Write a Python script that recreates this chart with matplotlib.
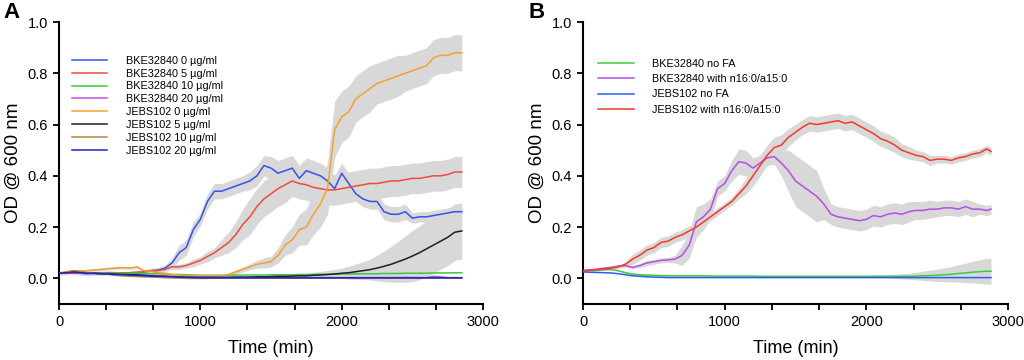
import numpy as np
import matplotlib
matplotlib.use("Agg")
import matplotlib.pyplot as plt
from matplotlib.ticker import MultipleLocator

plt.rcParams['font.family'] = ['Liberation Sans', 'DejaVu Sans']

# ---------------- Panel A data (time step 50 min) ----------------
t_a = np.arange(0, 2851, 50)

labels_a = ['BKE32840 0 µg/ml', 'BKE32840 5 µg/ml', 'BKE32840 10 µg/ml', 'BKE32840 20 µg/ml',
            'JEBS102 0 µg/ml', 'JEBS102 5 µg/ml', 'JEBS102 10 µg/ml', 'JEBS102 20 µg/ml']
colors_a = ['#3452ec', '#f04a3a', '#3cc83c', '#c24ee6', '#f5a02e', '#1e1e1e', '#b58541', '#1a22c8']

bke0 = [0.02, 0.022, 0.025, 0.02, 0.018, 0.02, 0.02, 0.022, 0.02, 0.018, 0.02, 0.022, 0.025, 0.03, 0.032, 0.04,
        0.06, 0.10, 0.12, 0.19, 0.23, 0.30, 0.34, 0.34, 0.35, 0.36, 0.37, 0.38, 0.40, 0.44, 0.43,
        0.41, 0.42, 0.43, 0.39, 0.42, 0.41, 0.40, 0.38, 0.35, 0.41, 0.37, 0.33, 0.31, 0.30, 0.30,
        0.26, 0.25, 0.25, 0.26, 0.235, 0.24, 0.24, 0.245, 0.25, 0.255, 0.26, 0.26]
bke0_err = [0.008, 0.008, 0.01, 0.008, 0.008, 0.008, 0.008, 0.008, 0.008, 0.008, 0.008, 0.008, 0.008, 0.01, 0.01, 0.012,
            0.02, 0.03, 0.03, 0.03, 0.025, 0.03, 0.03, 0.03, 0.03, 0.03, 0.03, 0.035, 0.04, 0.04, 0.045,
            0.05, 0.05, 0.05, 0.05, 0.05, 0.05, 0.05, 0.05, 0.05, 0.04, 0.04, 0.03, 0.03, 0.03, 0.03,
            0.03, 0.03, 0.03, 0.03, 0.02, 0.02, 0.02, 0.02, 0.02, 0.02, 0.02, 0.02]

bke5 = [0.02, 0.02, 0.02, 0.02, 0.02, 0.02, 0.02, 0.02, 0.02, 0.022, 0.022, 0.024, 0.025, 0.028, 0.03, 0.035,
        0.045, 0.045, 0.05, 0.06, 0.07, 0.085, 0.10, 0.12, 0.14, 0.17, 0.21, 0.24, 0.28, 0.31, 0.33,
        0.35, 0.365, 0.38, 0.37, 0.365, 0.355, 0.35, 0.345, 0.345, 0.35, 0.355, 0.36, 0.365, 0.37, 0.37,
        0.375, 0.38, 0.38, 0.385, 0.39, 0.39, 0.395, 0.40, 0.40, 0.405, 0.415, 0.415]
bke5_err = [0.005, 0.005, 0.005, 0.005, 0.005, 0.005, 0.005, 0.005, 0.005, 0.005, 0.005, 0.005, 0.006, 0.006, 0.008, 0.008,
            0.01, 0.01, 0.01, 0.015, 0.015, 0.02, 0.02, 0.03, 0.04, 0.05, 0.06, 0.07, 0.07, 0.07, 0.07,
            0.07, 0.07, 0.06, 0.06, 0.06, 0.06, 0.06, 0.06, 0.06, 0.06, 0.06, 0.06, 0.06, 0.06, 0.06,
            0.06, 0.06, 0.06, 0.06, 0.06, 0.06, 0.06, 0.06, 0.06, 0.06, 0.06, 0.06]

bke10 = [0.02, 0.022, 0.025, 0.022, 0.02, 0.02, 0.02, 0.02, 0.02, 0.02, 0.02, 0.02, 0.02, 0.018, 0.018, 0.017,
         0.015, 0.015, 0.014, 0.013, 0.012, 0.012, 0.012, 0.012, 0.012, 0.013, 0.013, 0.013, 0.013, 0.013, 0.014,
         0.014, 0.014, 0.014, 0.015, 0.015, 0.015, 0.016, 0.016, 0.016, 0.017, 0.017, 0.017, 0.018, 0.018, 0.018,
         0.019, 0.019, 0.019, 0.02, 0.02, 0.02, 0.02, 0.021, 0.021, 0.021, 0.022, 0.022]

bke20 = [0.02, 0.02, 0.025, 0.022, 0.02, 0.018, 0.017, 0.016, 0.015, 0.015, 0.014, 0.013, 0.012, 0.012, 0.01, 0.01,
         0.008, 0.007, 0.006, 0.005, 0.004, 0.004, 0.004, 0.003, 0.003, 0.003, 0.003, 0.003, 0.003, 0.003, 0.003,
         0.003, 0.003, 0.003, 0.003, 0.003, 0.003, 0.003, 0.003, 0.003, 0.003, 0.003, 0.003, 0.003, 0.003, 0.003,
         0.003, 0.003, 0.003, 0.004, 0.003, 0.003, 0.003, 0.008, 0.006, 0.003, 0.003, 0.003]

jebs0 = [0.02, 0.022, 0.025, 0.028, 0.03, 0.033, 0.035, 0.038, 0.04, 0.042, 0.04, 0.045, 0.03, 0.028, 0.022, 0.02,
         0.015, 0.012, 0.01, 0.01, 0.01, 0.01, 0.01, 0.01, 0.015, 0.025, 0.035, 0.045, 0.055, 0.06, 0.065,
         0.09, 0.13, 0.15, 0.19, 0.20, 0.25, 0.29, 0.35, 0.58, 0.63, 0.65, 0.70, 0.72, 0.74, 0.76,
         0.77, 0.78, 0.79, 0.80, 0.81, 0.82, 0.83, 0.86, 0.87, 0.87, 0.88, 0.88]
jebs0_err = [0.005, 0.005, 0.005, 0.005, 0.005, 0.005, 0.005, 0.005, 0.005, 0.005, 0.005, 0.005, 0.005, 0.005, 0.005, 0.005,
             0.005, 0.005, 0.005, 0.005, 0.005, 0.005, 0.005, 0.005, 0.006, 0.008, 0.01, 0.012, 0.015, 0.02, 0.02,
             0.03, 0.04, 0.05, 0.06, 0.07, 0.08, 0.09, 0.10, 0.11, 0.10, 0.10, 0.09, 0.09, 0.09, 0.08,
             0.08, 0.08, 0.08, 0.07, 0.07, 0.07, 0.07, 0.07, 0.07, 0.07, 0.07, 0.07]

jebs5 = [0.02, 0.022, 0.028, 0.025, 0.02, 0.02, 0.018, 0.017, 0.016, 0.015, 0.015, 0.014, 0.012, 0.01, 0.008, 0.007,
         0.006, 0.005, 0.004, 0.004, 0.004, 0.004, 0.004, 0.004, 0.004, 0.005, 0.005, 0.005, 0.006, 0.006, 0.007,
         0.008, 0.008, 0.009, 0.01, 0.01, 0.012, 0.013, 0.015, 0.017, 0.02, 0.022, 0.026, 0.03, 0.034, 0.04,
         0.047, 0.055, 0.065, 0.075, 0.087, 0.10, 0.115, 0.13, 0.145, 0.16, 0.18, 0.185]
jebs5_err = [0.005, 0.005, 0.005, 0.005, 0.005, 0.005, 0.005, 0.005, 0.005, 0.005, 0.005, 0.005, 0.005, 0.005, 0.005, 0.005,
             0.005, 0.005, 0.005, 0.005, 0.005, 0.005, 0.005, 0.005, 0.005, 0.005, 0.005, 0.005, 0.006, 0.006, 0.007,
             0.007, 0.008, 0.009, 0.01, 0.01, 0.012, 0.014, 0.016, 0.018, 0.02, 0.025, 0.03, 0.035, 0.04, 0.05,
             0.06, 0.07, 0.08, 0.09, 0.10, 0.105, 0.11, 0.11, 0.11, 0.11, 0.11, 0.11]

jebs10 = [0.02, 0.025, 0.03, 0.028, 0.022, 0.02, 0.018, 0.016, 0.012, 0.01, 0.008, 0.007, 0.006, 0.005, 0.004, 0.003,
          0.002, 0.001, 0.0, 0.0, 0.0, 0.0, 0.001, 0.001, 0.001, 0.001, 0.001, 0.001, 0.001, 0.001, 0.001,
          0.001, 0.001, 0.001, 0.001, 0.001, 0.001, 0.001, 0.001, 0.001, 0.001, 0.001, 0.001, 0.001, 0.001, 0.001,
          0.001, 0.001, 0.001, 0.001, 0.001, 0.001, 0.001, 0.001, 0.001, 0.001, 0.001, 0.001]

jebs20 = [0.02, 0.022, 0.024, 0.022, 0.02, 0.02, 0.018, 0.017, 0.015, 0.014, 0.013, 0.012, 0.01, 0.009, 0.008, 0.007,
          0.006, 0.005, 0.004, 0.003, 0.002, 0.002, 0.002, 0.002, 0.002, 0.002, 0.002, 0.002, 0.002, 0.002, 0.002,
          0.002, 0.002, 0.002, 0.002, 0.002, 0.002, 0.002, 0.002, 0.002, 0.002, 0.002, 0.002, 0.002, 0.002, 0.002,
          0.002, 0.002, 0.002, 0.002, 0.002, 0.002, 0.002, 0.002, 0.002, 0.002, 0.002, 0.002]

series_a = [bke0, bke5, bke10, bke20, jebs0, jebs5, jebs10, jebs20]
errors_a = [bke0_err, bke5_err, None, None, jebs0_err, jebs5_err, None, None]

# ---------------- Panel B data ----------------
t_b = np.append(np.arange(0, 2851, 50), 2880)

labels_b = ['BKE32840 no FA', 'BKE32840 with n16:0/a15:0', 'JEBS102 no FA', 'JEBS102 with n16:0/a15:0']
colors_b = ['#3ccc3c', '#b54ee6', '#2f5cf0', '#f43a26']

bke_nofa = [0.03, 0.031, 0.032, 0.034, 0.035, 0.03, 0.022, 0.017, 0.014, 0.013, 0.012, 0.011,
            0.01, 0.01, 0.01, 0.01, 0.01, 0.01, 0.009, 0.009, 0.009, 0.009, 0.009, 0.009, 0.009, 0.008,
            0.008, 0.008, 0.008, 0.008, 0.008, 0.008, 0.008, 0.008, 0.008, 0.008, 0.008, 0.008, 0.008, 0.008,
            0.008, 0.008, 0.008, 0.008, 0.008, 0.008, 0.008, 0.009, 0.01, 0.011, 0.012, 0.014, 0.016, 0.019,
            0.021, 0.024, 0.026, 0.028, 0.028]
bke_nofa_err = [0.003, 0.003, 0.003, 0.003, 0.003, 0.003, 0.003, 0.003, 0.003, 0.003, 0.003, 0.003,
                0.003, 0.003, 0.003, 0.003, 0.003, 0.003, 0.003, 0.003, 0.003, 0.003, 0.003, 0.003, 0.003, 0.003,
                0.003, 0.003, 0.003, 0.003, 0.003, 0.003, 0.003, 0.003, 0.003, 0.003, 0.003, 0.003, 0.003, 0.003,
                0.003, 0.004, 0.005, 0.006, 0.008, 0.01, 0.012, 0.015, 0.018, 0.021, 0.024, 0.027, 0.03, 0.034,
                0.038, 0.042, 0.046, 0.05, 0.05]

bke_fa = [0.03, 0.033, 0.036, 0.04, 0.043, 0.048, 0.05, 0.043, 0.05, 0.06, 0.065, 0.07,
          0.072, 0.075, 0.09, 0.13, 0.22, 0.24, 0.27, 0.35, 0.37, 0.42, 0.455, 0.45, 0.43, 0.45,
          0.47, 0.475, 0.45, 0.42, 0.38, 0.36, 0.34, 0.32, 0.29, 0.25, 0.24, 0.235, 0.23, 0.225,
          0.23, 0.245, 0.24, 0.25, 0.255, 0.25, 0.26, 0.265, 0.265, 0.27, 0.27, 0.275, 0.275, 0.27,
          0.28, 0.27, 0.27, 0.265, 0.27]
bke_fa_err = [0.004, 0.004, 0.004, 0.004, 0.004, 0.005, 0.005, 0.006, 0.008, 0.01, 0.01, 0.01,
              0.01, 0.015, 0.04, 0.05, 0.06, 0.05, 0.04, 0.03, 0.03, 0.04, 0.05, 0.05, 0.04, 0.03,
              0.03, 0.03, 0.05, 0.08, 0.1, 0.1, 0.1, 0.1, 0.06, 0.04, 0.04, 0.04, 0.04, 0.04,
              0.04, 0.04, 0.04, 0.04, 0.04, 0.04, 0.04, 0.035, 0.035, 0.035, 0.03, 0.03, 0.03, 0.03,
              0.03, 0.03, 0.02, 0.02, 0.02]

jebs_nofa = [0.025, 0.024, 0.023, 0.022, 0.021, 0.018, 0.014, 0.01, 0.008, 0.006, 0.005, 0.004,
             0.003, 0.003, 0.003, 0.003, 0.003, 0.003, 0.003, 0.003, 0.003, 0.003, 0.003, 0.003, 0.003, 0.003,
             0.003, 0.003, 0.003, 0.003, 0.003, 0.003, 0.003, 0.003, 0.003, 0.003, 0.003, 0.003, 0.003, 0.003,
             0.003, 0.003, 0.003, 0.003, 0.003, 0.003, 0.003, 0.003, 0.003, 0.003, 0.003, 0.003, 0.003, 0.003,
             0.003, 0.003, 0.003, 0.003, 0.003]

jebs_fa = [0.03, 0.032, 0.034, 0.036, 0.04, 0.045, 0.055, 0.075, 0.09, 0.11, 0.12, 0.14,
           0.145, 0.16, 0.17, 0.185, 0.2, 0.22, 0.24, 0.26, 0.28, 0.30, 0.33, 0.36, 0.40, 0.44,
           0.48, 0.51, 0.52, 0.55, 0.57, 0.59, 0.605, 0.60, 0.605, 0.61, 0.615, 0.605, 0.61, 0.595,
           0.58, 0.565, 0.545, 0.535, 0.52, 0.50, 0.49, 0.48, 0.475, 0.46, 0.465, 0.465, 0.46, 0.47,
           0.475, 0.485, 0.49, 0.505, 0.495]
jebs_fa_err = [0.004, 0.004, 0.004, 0.004, 0.005, 0.006, 0.01, 0.02, 0.02, 0.02, 0.02, 0.02,
               0.02, 0.02, 0.02, 0.02, 0.015, 0.015, 0.015, 0.015, 0.015, 0.015, 0.02, 0.03, 0.04, 0.04,
               0.04, 0.04, 0.04, 0.035, 0.03, 0.03, 0.03, 0.03, 0.03, 0.03, 0.03, 0.03, 0.03, 0.03,
               0.03, 0.03, 0.03, 0.03, 0.03, 0.025, 0.025, 0.02, 0.02, 0.02, 0.015, 0.015, 0.015, 0.015,
               0.015, 0.015, 0.015, 0.015, 0.015]

series_b = [bke_nofa, bke_fa, jebs_nofa, jebs_fa]
errors_b = [bke_nofa_err, bke_fa_err, None, jebs_fa_err]


def style_axes(ax):
    ax.set_xlim(0, 3000)
    ax.set_ylim(-0.1, 1.0)
    ax.spines['top'].set_visible(False)
    ax.spines['right'].set_visible(False)
    ax.spines['left'].set_linewidth(1.5)
    ax.spines['bottom'].set_linewidth(1.5)
    ax.xaxis.set_major_locator(MultipleLocator(1000))
    ax.xaxis.set_minor_locator(MultipleLocator(1000 / 3))
    ax.set_yticks([0.0, 0.2, 0.4, 0.6, 0.8, 1.0])
    ax.yaxis.set_major_formatter(plt.FormatStrFormatter('%.1f'))
    ax.tick_params(which='both', direction='out', length=4.5, width=1.3, labelsize=10.5)
    ax.set_xlabel('Time (min)', fontsize=13, labelpad=8)
    ax.set_ylabel('OD @ 600 nm', fontsize=13.5, labelpad=4)


def draw_panel(ax, t, series, errors, colors, labels):
    # grey SD bars first, drawn under the means
    for y, e in zip(series, errors):
        if e is None:
            continue
        y = np.array(y)
        e = np.array(e)
        ax.fill_between(t, y - e, y + e, color='#d8d8d8', lw=0, zorder=1)
    for y, c, lab in zip(series, colors, labels):
        ax.plot(t, y, color=c, lw=1.1, label=lab, zorder=3)


fig = plt.figure(figsize=(10.24, 3.6), dpi=100)

axA = fig.add_axes([59 / 1024, 56 / 360, 424 / 1024, 282 / 360])
draw_panel(axA, t_a, series_a, errors_a, colors_a, labels_a)
style_axes(axA)
axA.legend(loc='upper left', bbox_to_anchor=(0.03, 0.88), frameon=False, fontsize=7.8,
           handlelength=3.3, handletextpad=1.7, labelspacing=0.26, borderpad=0, borderaxespad=0)

axB = fig.add_axes([583 / 1024, 56 / 360, 425 / 1024, 282 / 360])
draw_panel(axB, t_b, series_b, errors_b, colors_b, labels_b)
style_axes(axB)
axB.legend(loc='upper left', bbox_to_anchor=(0.036, 0.87), frameon=False, fontsize=7.8,
           handlelength=3.3, handletextpad=1.7, labelspacing=0.5, borderpad=0, borderaxespad=0)

fig.text(3 / 1024, 1 - 12 / 360, 'A', fontsize=16, fontweight='bold', va='center', ha='left')
fig.text(529 / 1024, 1 - 12 / 360, 'B', fontsize=16, fontweight='bold', va='center', ha='left')

fig.savefig('out.png', dpi=100)
